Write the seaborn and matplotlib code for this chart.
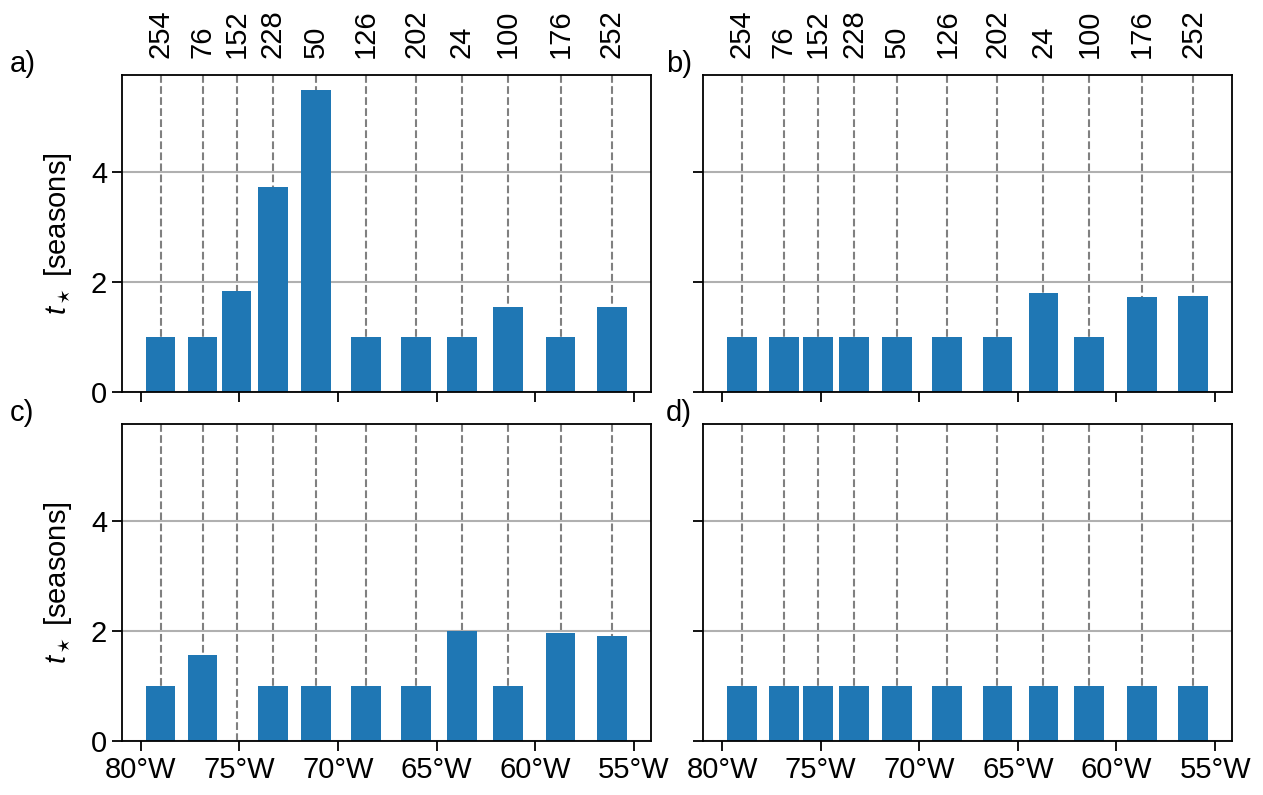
import numpy as np
import pandas as pd
import matplotlib
matplotlib.use("Agg")
import matplotlib.pyplot as plt
from matplotlib.ticker import FuncFormatter
import seaborn as sns

# Station longitudes (degrees east) and their IDs shown on the top axis
lons = [-78.99, -76.86, -75.14, -73.30, -71.12, -68.58, -66.04, -63.71, -61.38, -58.71, -56.11]
station_ids = ["254", "76", "152", "228", "50", "126", "202", "24", "100", "176", "252"]

# t_star (in seasons) for each panel
t_a = [1.0, 1.0, 1.84, 3.73, 5.49, 1.0, 1.0, 1.0, 1.55, 1.0, 1.55]
t_b = [1.0, 1.0, 1.0, 1.0, 1.0, 1.0, 1.0, 1.8, 1.0, 1.73, 1.76]
t_c = [1.0, 1.56, 0.0, 1.0, 1.0, 1.0, 1.0, 2.0, 1.0, 1.96, 1.91]
t_d = [1.0, 1.0, 1.0, 1.0, 1.0, 1.0, 1.0, 1.0, 1.0, 1.0, 1.0]

panel_labels = ["a)", "b)", "c)", "d)"]
xticks = [-80, -75, -70, -65, -60, -55]
yticks = [0, 2, 4]

sns.set_style("ticks")
plt.rcParams["font.family"] = ["Liberation Sans", "DejaVu Sans"]
plt.rcParams.update({
    "font.size": 21,
    "text.color": "black",
    "axes.labelcolor": "black",
    "mathtext.fontset": "custom",
    "mathtext.it": "Liberation Sans:italic",
    "mathtext.rm": "Liberation Sans",
    "axes.linewidth": 1.3,
    "axes.edgecolor": "black",
    "xtick.major.size": 7,
    "ytick.major.size": 7,
    "xtick.major.width": 1.3,
    "ytick.major.width": 1.3,
    "xtick.color": "black",
    "ytick.color": "black",
    "xtick.labelcolor": "black",
    "ytick.labelcolor": "black",
    "xtick.labelsize": 21,
    "ytick.labelsize": 21,
})

fig, axes = plt.subplots(2, 2, figsize=(12.63, 7.95), dpi=100, sharex=True, sharey=True)
fig.subplots_adjust(left=0.0964, right=0.9755, top=0.9057, bottom=0.0679,
                    wspace=0.099, hspace=0.098)

bar_width = 1.5
rel_width = bar_width / np.min(np.diff(sorted(lons)))

label_x = [10 / 1263, 666 / 1263, 10 / 1263, 666 / 1263]

for ax, vals, lab, lx in zip(axes.flat, [t_a, t_b, t_c, t_d], panel_labels, label_x):
    df = pd.DataFrame({"lon": lons, "t": vals})
    sns.barplot(data=df, x="lon", y="t", native_scale=True, width=rel_width,
                color="#1f77b4", saturation=1, errorbar=None, linewidth=0, ax=ax)
    ax.set_xlabel("")
    ax.set_ylabel("")
    ax.set_axisbelow(True)
    ax.grid(axis="y", color="#b0b0b0", lw=1.5)
    for lon in lons:
        ax.axvline(lon, color="gray", ls="--", lw=1.5, zorder=0.5)
    ax.set_xticks(xticks)
    ax.set_yticks(yticks)
    ax.xaxis.set_major_formatter(FuncFormatter(lambda v, p: f"{abs(int(round(v)))}°W"))
    ax.margins(x=0.05, y=0.05)
    ax.set_ylim(bottom=0)
    pos = ax.get_position()
    fig.text(lx, pos.y1 + 3 / 795, lab, fontsize=21, ha="left", va="baseline")

for ax in axes[0]:
    top = ax.secondary_xaxis("top")
    top.set_xticks(lons)
    top.set_xticklabels(station_ids, rotation=90)
    top.tick_params(length=0, pad=12)
    top.spines["top"].set_visible(False)

for ax in axes[:, 0]:
    ax.set_ylabel(r"$t_\star$ [seasons]", fontsize=21, labelpad=12)

fig.savefig("out.png", dpi=100)
